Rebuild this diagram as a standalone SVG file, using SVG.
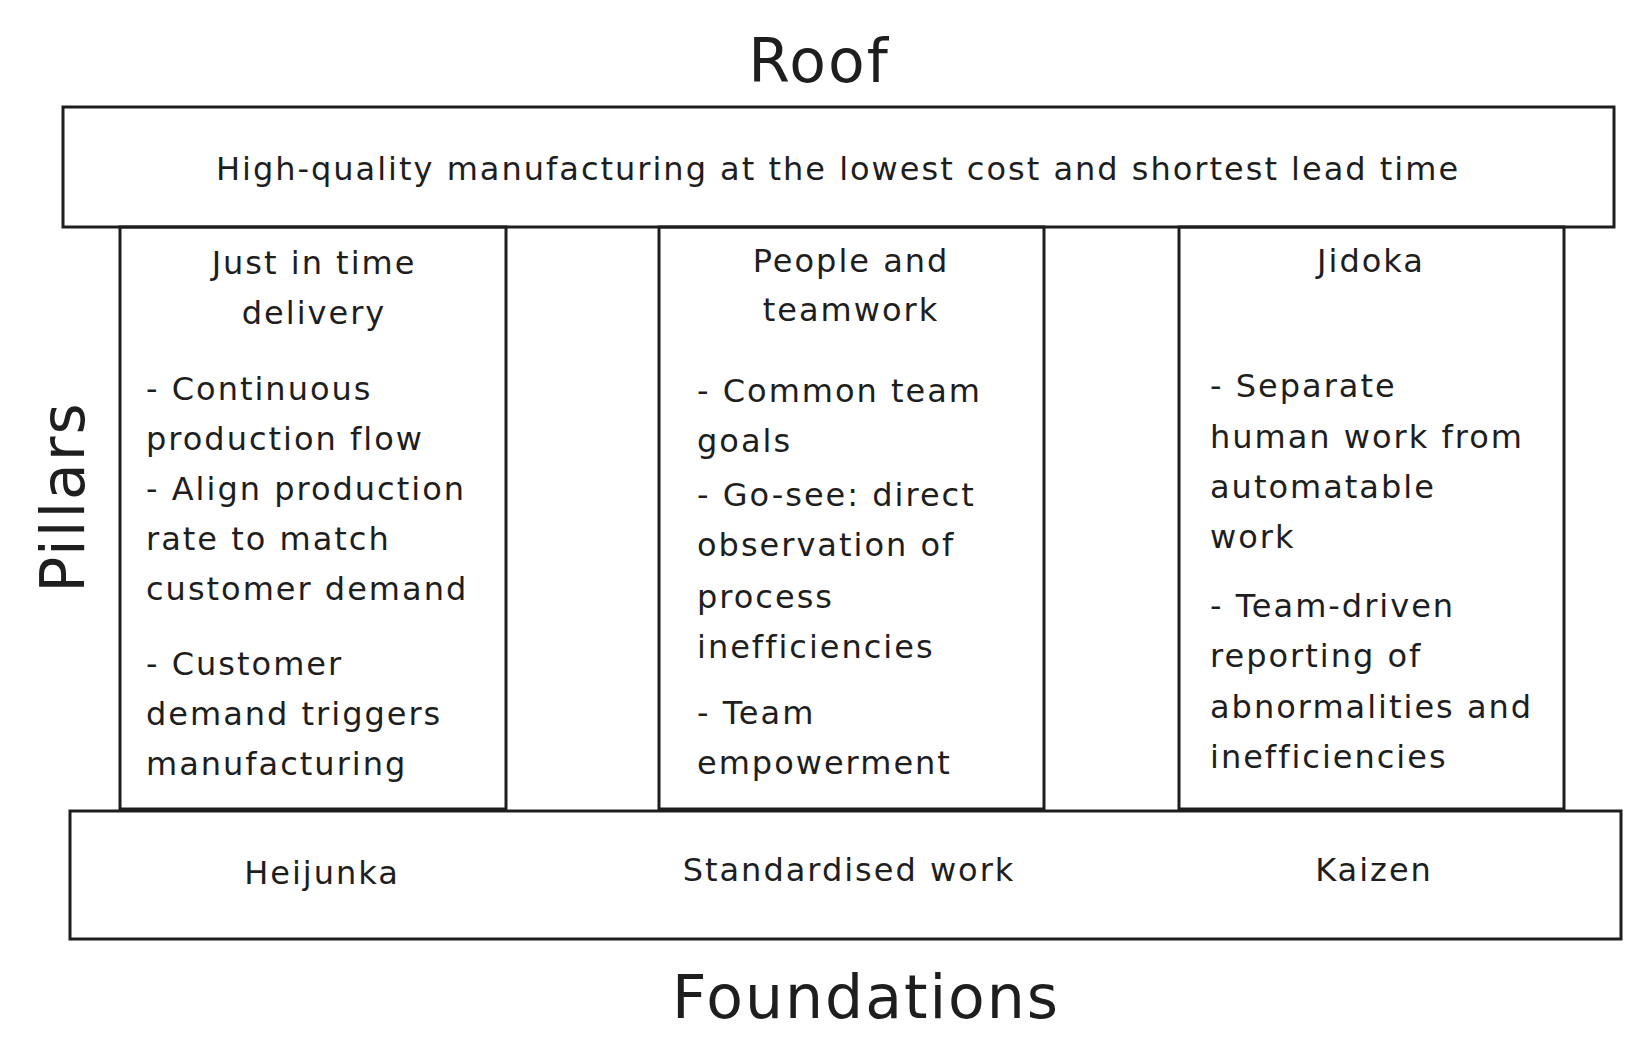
<svg xmlns="http://www.w3.org/2000/svg" width="1640" height="1063" viewBox="0 0 1640 1063">
<style>
rect{fill:none;stroke:#1e1e1e;stroke-width:3}
text{font-family:"DejaVu Sans","Liberation Sans",Arial,sans-serif;fill:#1e1e1e}
.t{font-size:32px;letter-spacing:2px}
.c{text-anchor:middle}
.big{font-size:60px;text-anchor:middle;letter-spacing:2px}
</style>
<rect x="0" y="0" width="1640" height="1063" style="fill:#fff;stroke:none"/>
<text class="big" x="819" y="82">Roof</text>
<g id="roof"><rect x="63" y="107" width="1551" height="120"/>
<text class="t c" x="838" y="180">High-quality manufacturing at the lowest cost and shortest lead time</text></g>
<g id="pillar1"><rect x="120" y="227" width="386" height="582"/>
<text class="t c" x="314" y="274">Just in time</text><text class="t c" x="314" y="324">delivery</text>
<text class="t" x="146" y="400">- Continuous</text><text class="t" x="146" y="450">production flow</text>
<text class="t" x="146" y="500">- Align production</text><text class="t" x="146" y="550">rate to match</text>
<text class="t" x="146" y="600">customer demand</text>
<text class="t" x="146" y="675">- Customer</text><text class="t" x="146" y="725">demand triggers</text><text class="t" x="146" y="775">manufacturing</text></g>
<g id="pillar2"><rect x="659" y="227" width="385" height="582"/>
<text class="t c" x="851" y="272">People and</text><text class="t c" x="851" y="321">teamwork</text>
<text class="t" x="697" y="402">- Common team</text><text class="t" x="697" y="452">goals</text>
<text class="t" x="697" y="506">- Go-see: direct</text><text class="t" x="697" y="556">observation of</text>
<text class="t" x="697" y="608">process</text><text class="t" x="697" y="658">inefficiencies</text>
<text class="t" x="697" y="724">- Team</text><text class="t" x="697" y="774">empowerment</text></g>
<g id="pillar3"><rect x="1179" y="227" width="385" height="582"/>
<text class="t c" x="1371" y="272">Jidoka</text>
<text class="t" x="1210" y="397">- Separate</text><text class="t" x="1210" y="448">human work from</text>
<text class="t" x="1210" y="498">automatable</text><text class="t" x="1210" y="548">work</text>
<text class="t" x="1210" y="617">- Team-driven</text><text class="t" x="1210" y="667">reporting of</text>
<text class="t" x="1210" y="718">abnormalities and</text><text class="t" x="1210" y="768">inefficiencies</text></g>
<g id="foundation"><rect x="70" y="811" width="1551" height="128"/>
<text class="t c" x="322" y="884">Heijunka</text><text class="t c" x="849" y="881">Standardised work</text><text class="t c" x="1374" y="881">Kaizen</text></g>
<text class="big" x="866" y="1018">Foundations</text>
<text class="big" transform="translate(84,497) rotate(-90)">Pillars</text>
<g id="connectors"/>
</svg>
